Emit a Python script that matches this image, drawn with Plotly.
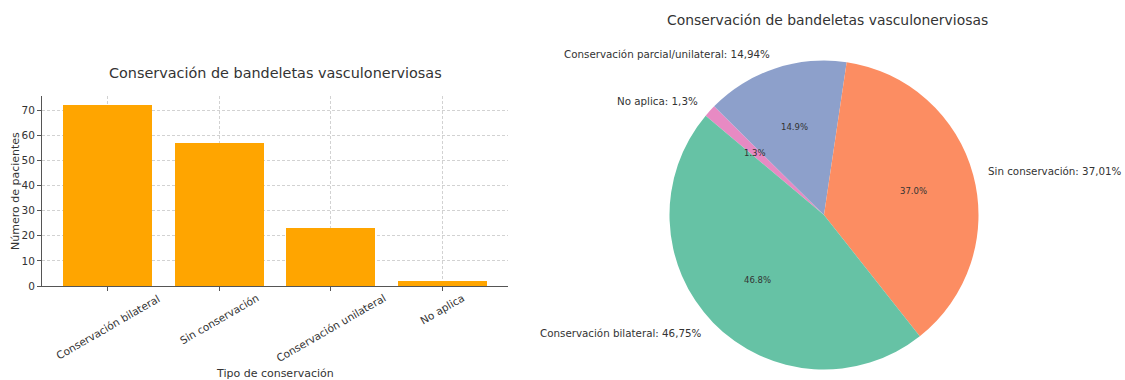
import math
import plotly.graph_objects as go

# ---- data ----
bar_categories = ["Conservación bilateral", "Sin conservación",
                  "Conservación unilateral", "No aplica"]
bar_counts = [72, 57, 23, 2]

pie_labels = ["Conservación bilateral", "Sin conservación",
              "Conservación parcial/unilateral", "No aplica"]
pie_counts = [72, 57, 23, 2]
pie_colors = ["#66c2a5", "#fc8d62", "#8da0cb", "#e78ac3"]

chart_title = "Conservación de bandeletas vasculonerviosas"
x_title = "Tipo de conservación"
y_title = "Número de pacientes"
y_ticks = [0, 10, 20, 30, 40, 50, 60, 70]

# ---- page geometry (pixels) ----
W, H = 1125, 380
FONT = "DejaVu Sans"
TXT = "#333333"
AX = "#555555"
GRID = "#d2d2d2"

bar_left, bar_right, bar_top, bar_bottom = 42, 508, 96, 286
pie_cx, pie_cy, pie_r = 824, 215, 154.5
start_angle = 140.0  # degrees, counter-clockwise from 3 o'clock


def px(x):
    return x / W


def py(y):
    return 1 - y / H


def label(x, y, text, size, xanchor="center", yanchor="middle", **kw):
    return dict(x=x, y=y, text=text, showarrow=False,
                xanchor=xanchor, yanchor=yanchor,
                borderpad=0, borderwidth=0,
                font=dict(family=FONT, size=size, color=TXT), **kw)


fig = go.Figure()

# ---- bar chart ----
fig.add_trace(go.Bar(
    x=bar_categories, y=bar_counts, width=0.8,
    marker=dict(color="#FFA500", line=dict(width=0)),
    xaxis="x", yaxis="y", showlegend=False,
))

# ---- pie chart (slices listed clockwise from the start angle) ----
fig.add_trace(go.Pie(
    labels=pie_labels[::-1], values=pie_counts[::-1],
    marker=dict(colors=pie_colors[::-1], line=dict(width=0)),
    sort=False, direction="clockwise", rotation=-(start_angle - 90),
    textinfo="none", showlegend=False, automargin=False,
    domain=dict(x=[px(pie_cx - pie_r), px(pie_cx + pie_r)],
                y=[py(pie_cy + pie_r), py(pie_cy - pie_r)]),
))

annotations = []

# category labels, rotated about their centres under each tick
for cat in bar_categories:
    annotations.append(label(cat, py(bar_bottom + 6), cat, 10.5,
                             yanchor="top", xref="x", yref="paper",
                             textangle=-30))

# pie slice labels: name + share outside, rounded share inside
total = sum(pie_counts)
angle = start_angle
for name, v in zip(pie_labels, pie_counts):
    share = 100.0 * v / total
    span = 360.0 * v / total
    mid = math.radians(angle + span / 2)
    angle += span
    ox = pie_cx + 1.1 * pie_r * math.cos(mid)
    oy = pie_cy - 1.1 * pie_r * math.sin(mid)
    annotations.append(label(
        px(ox), py(oy),
        f"{name}: {str(round(share, 2)).replace('.', ',')}%", 10.3,
        xanchor="left" if math.cos(mid) > 0 else "right",
        xref="paper", yref="paper"))
    ix = pie_cx + 0.6 * pie_r * math.cos(mid)
    iy = pie_cy - 0.6 * pie_r * math.sin(mid)
    annotations.append(label(px(ix), py(iy), f"{share:.1f}%", 8.5,
                             xref="paper", yref="paper"))

# titles
annotations += [
    label(px((bar_left + bar_right) / 2), py(73), chart_title, 14.4,
          xref="paper", yref="paper"),
    label(px(pie_cx + 3), py(20), chart_title, 13.9,
          xref="paper", yref="paper"),
    label(px((bar_left + bar_right) / 2), py(373), x_title, 11,
          xref="paper", yref="paper"),
    label(px(15), py((bar_top + bar_bottom) / 2), y_title, 11,
          xref="paper", yref="paper", textangle=-90),
]

fig.update_layout(
    width=W, height=H, autosize=False,
    margin=dict(l=0, r=0, t=0, b=0, pad=0, autoexpand=False),
    paper_bgcolor="white", plot_bgcolor="white",
    font=dict(family=FONT, color=TXT),
    bargap=0,
    xaxis=dict(
        domain=[px(bar_left), px(bar_right)], type="category",
        range=[-0.59, len(bar_categories) - 1 + 0.59],
        showline=True, linecolor=AX, linewidth=1, mirror=False,
        ticks="outside", ticklen=4, tickcolor=AX, tickwidth=1,
        showticklabels=False, automargin=False,
        showgrid=True, gridcolor=GRID, gridwidth=0.7, griddash="3px,2px",
        zeroline=False, layer="above traces", fixedrange=True,
    ),
    yaxis=dict(
        domain=[py(bar_bottom), py(bar_top)],
        range=[0, max(bar_counts) * 1.05],
        tickvals=y_ticks, automargin=False,
        showline=True, linecolor=AX, linewidth=1, mirror=False,
        ticks="outside", ticklen=4, tickcolor=AX, tickwidth=1,
        tickfont=dict(family=FONT, size=10.5, color=TXT),
        showgrid=True, gridcolor=GRID, gridwidth=0.7, griddash="3px,2px",
        zeroline=False, layer="above traces", fixedrange=True,
    ),
    annotations=annotations,
)

fig.write_html("out.html")
